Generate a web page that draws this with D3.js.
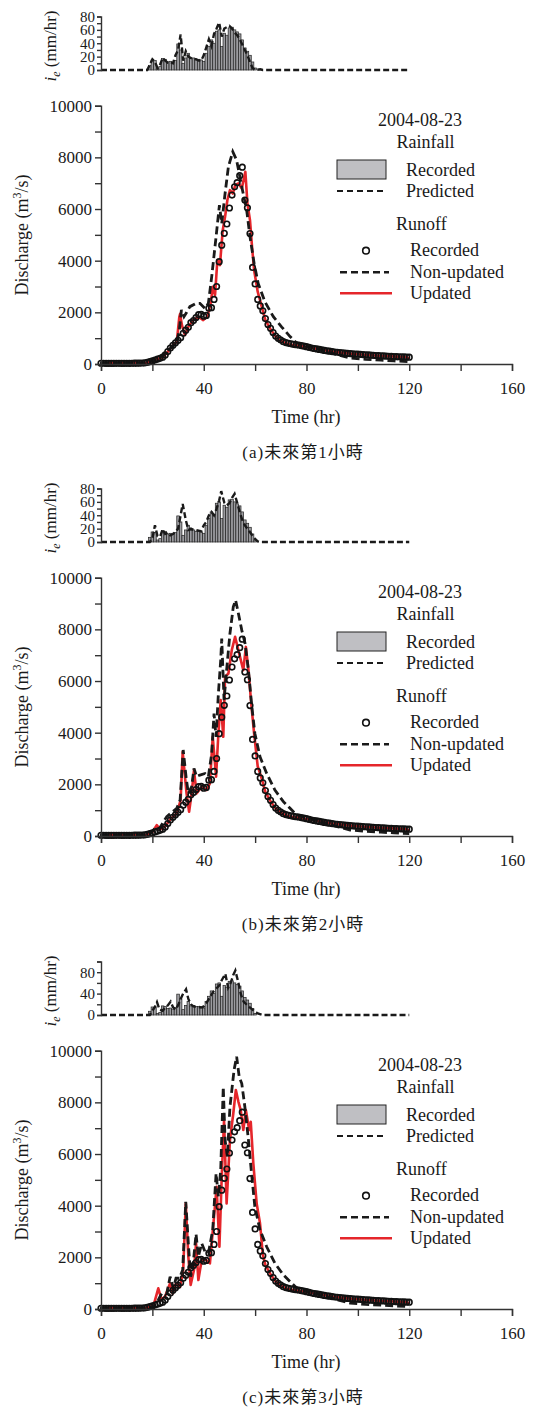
<!DOCTYPE html>
<html lang="zh-Hant">
<head>
<meta charset="UTF-8">
<title>Discharge forecast 2004-08-23</title>
<script src="https://d3js.org/d3.v7.min.js"></script>
<style>
    body { margin: 0; background: #fff; }
    svg text { font-family: "Liberation Serif", "Times New Roman", "Noto Sans CJK TC", serif; fill: #1a1a1a; }
    .axis path, .axis line { stroke: #333; stroke-width: 1.4; }
</style>
</head>
<body>
<svg id="chart" width="534" height="1408"></svg>
<script>
// ---- data ----
const rainStart = 19;   // first hour with recorded rain
const rainRecorded = [7, 15, 14, 3, 5, 17, 16, 12, 13, 11, 14, 39, 30, 10, 18, 25, 17, 18, 16, 16,
    15, 13, 25, 35, 45, 40, 58, 60, 35, 55, 52, 63, 64, 60, 57, 54, 45, 33, 28, 22, 12, 3];

// recorded discharge, hourly from 0 to 120 hr
const runoffRecorded = [30, 30, 28, 28, 27, 27, 26, 26, 25, 25, 26, 28, 30, 32, 33, 35, 38, 42, 60, 95,
    120, 155, 190, 220, 265, 350, 480, 620, 725, 820,
    915, 1020, 1190, 1310, 1420, 1600, 1680, 1800, 1910, 1920,
    1850, 1880, 2160, 2180, 2500, 3000, 3960, 4600, 5060, 5420,
    6040, 6540, 6860, 7020, 7290, 7620, 6350, 6050, 5050, 3740,
    3100, 2500, 2250, 2060, 1760, 1530, 1380, 1220, 1080, 995,
    930, 865, 830, 800, 780, 760, 745, 735, 710, 690,
    670, 645, 620, 600, 585, 565, 545, 525, 510, 495,
    478, 465, 455, 443, 432, 420, 410, 400, 392, 386,
    380, 372, 365, 358, 350, 343, 336, 330, 324, 318,
    312, 306, 300, 295, 290, 285, 280, 276, 272, 268,
    265];

// predicted rainfall [hr, mm/hr]
const rainPredA = [[0, 0], [18, 0], [19, 8], [20, 16], [21, 12], [22, 3], [23, 8], [24, 18], [25, 14], [26, 11],
    [27, 12], [28, 10], [29, 22], [30, 30], [31, 53], [32, 14], [33, 28], [34, 20], [35, 18], [36, 16], [37, 16],
    [38, 14], [39, 14], [40, 22], [41, 34], [42, 46], [43, 36], [44, 54], [45, 62], [46, 71], [47, 50], [48, 62],
    [49, 64], [50, 66], [51, 62], [52, 56], [53, 52], [54, 46], [55, 38], [56, 30], [57, 22], [58, 12], [59, 3],
    [60, 0], [62, 1], [63, 0], [120, 0]];
const rainPredB = [[0, 0], [19, 0], [20, 5], [21, 25], [22, 9], [23, 8], [24, 19], [25, 12], [26, 14], [27, 10],
    [28, 12], [29, 15], [30, 20], [31, 40], [31.8, 57], [33, 33], [34, 18], [35, 20], [36, 18], [37, 18], [38, 17],
    [39, 16], [40, 25], [41, 30], [42, 40], [43, 45], [44, 40], [45, 50], [46, 62], [46.8, 76], [48, 59], [49, 55],
    [50, 58], [51, 66], [52, 72], [53, 59], [54, 45], [55, 33], [56, 25], [57.6, 17], [59.6, 6], [61, 1], [62, 0],
    [120, 0]];
const rainPredC = [[0, 0], [19, 0], [20, 8], [21, 15], [21.8, 24], [22.8, 10], [24, 8], [25, 14], [26, 18],
    [27.1, 25], [28, 15], [29, 10], [30, 18], [31, 30], [32, 40], [33.1, 48], [34, 30], [35, 20], [36, 16], [37, 15],
    [38, 15], [39, 14], [40, 16], [41, 22], [42, 30], [43, 38], [44, 45], [45, 50], [46, 55], [47, 65], [48.4, 77],
    [49.5, 51], [50.5, 60], [51.5, 75], [52.3, 83], [53.3, 64], [54.5, 38], [55.5, 25], [57, 18], [58.5, 12],
    [60, 6], [61, 3], [63, 0], [120, 0]];

// shared falling limbs [hr, m3/s]
const tailNonUpdated = [[76, 830], [80, 680], [86, 540], [92, 360], [97, 230], [103, 180], [109, 150], [114, 120], [120, 90]];
const tailUpdated = [[64, 1700], [66, 1350], [68, 1060], [70, 900], [72, 800], [74, 740], [76, 720], [80, 660],
    [85, 570], [90, 480], [95, 420], [100, 375], [105, 340], [110, 310], [115, 285], [119, 265], [120, 200]];

const nonUpdatedA = [[0, 30], [18, 50], [20.4, 130], [23, 230], [25.6, 480], [28, 700], [29.5, 860], [30.5, 1320],
    [31.3, 2090], [32.3, 1830], [33.3, 1990], [34.6, 2220], [37, 2350], [38.5, 2350], [40.5, 2150], [41.8, 2350],
    [43.1, 3380], [44.8, 4930], [46.1, 6150], [47, 5440], [48.3, 6600], [49.6, 7640], [51.3, 8220], [52.8, 7890],
    [54.8, 6860], [56.7, 5960], [58, 4930], [59.6, 3900], [61.2, 3120], [63.8, 2410], [67.1, 1830], [70.3, 1440],
    [73.6, 1060]];
const updatedA = [[0, 30], [18, 50], [20, 120], [22, 190], [24, 260], [26, 470], [28, 720], [29.5, 860],
    [30.5, 1830], [30.8, 1940], [31.5, 1500], [32.7, 1120], [34, 1440], [35.9, 1700], [37.9, 1830], [39.8, 1700],
    [41.4, 1830], [42.7, 2350], [43.5, 2990], [44.4, 2670], [45.3, 4020], [46.3, 3830], [47.4, 5190], [48.3, 5700],
    [49.2, 6350], [50.2, 6730], [51.3, 6600], [52.3, 6930], [53.5, 6990], [54.8, 6800], [56.2, 7440], [57, 6220],
    [58, 5570], [58.8, 4540], [59.6, 3640], [61, 2800], [62.5, 2250]];

const nonUpdatedB = [[0, 30], [18, 50], [19.5, 120], [21, 300], [22.5, 250], [25.6, 750], [29.5, 1070],
    [30.8, 1390], [32, 3330], [33.1, 2300], [34, 1650], [35.3, 1910], [36.2, 2620], [37.2, 2300], [38.5, 2360],
    [40.5, 2420], [41.8, 2300], [43.1, 3200], [44, 4740], [44.8, 3840], [45.7, 5520], [46.6, 6800], [47, 7640],
    [47.9, 5260], [48.9, 6420], [50.2, 7840], [51.5, 8870], [52.4, 9130], [53.5, 8610], [54.8, 7970], [56.1, 7450],
    [57.4, 6420], [58.6, 5130], [59.9, 3970], [61.9, 3070], [64.5, 2420], [67.7, 1780], [71, 1330], [73.6, 1070]];
const updatedB = [[0, 30], [18, 50], [20, 150], [21.7, 420], [23, 250], [25, 380], [27, 650], [29.5, 880],
    [31, 1390], [31.8, 3260], [33.3, 1650], [34.3, 940], [35.3, 1650], [36.2, 2550], [37.2, 1650], [39.2, 1910],
    [41.1, 1780], [42.4, 2040], [43.5, 3840], [44.8, 2300], [45.7, 3970], [46.6, 5260], [47.6, 3840], [48.3, 6160],
    [49.6, 6290], [50.9, 7190], [52.2, 7710], [53.8, 7060], [55.4, 6420], [56.4, 7320], [57.4, 6420], [58.6, 5000],
    [59.6, 3970], [61, 2700], [62.5, 2250]];

const nonUpdatedC = [[0, 30], [18, 50], [20.4, 90], [22.3, 350], [23.6, 600], [25.6, 600], [26.9, 1250],
    [28.2, 800], [29.2, 1190], [30.5, 1190], [31.8, 1510], [33, 4150], [34, 2540], [34.9, 1250], [35.9, 1770],
    [37, 2900], [37.9, 2030], [39.2, 2540], [40.5, 2220], [41.8, 2150], [43.5, 3060], [44.8, 5250], [45.7, 4350],
    [46.6, 5380], [47.6, 8600], [48.3, 6540], [49.2, 5900], [50.2, 7830], [51.8, 9250], [52.8, 9770], [53.8, 8990],
    [54.8, 8730], [56, 7830], [57.4, 6540], [58.6, 5250], [59.9, 3960], [61.9, 3060], [64.5, 2410], [67.7, 1770],
    [71, 1320], [73.6, 1060]];
const updatedC = [[0, 30], [18, 50], [20.5, 150], [22.3, 800], [23.6, 350], [25, 500], [26.9, 1000], [27.9, 600],
    [29.2, 1000], [30.8, 860], [32, 1510], [33, 4090], [34, 2030], [34.9, 930], [36.2, 1510], [37, 2540],
    [37.9, 1120], [39.2, 1900], [40.9, 1900], [42.4, 1770], [44, 3570], [45, 4730], [46.1, 2410], [47, 5120],
    [47.9, 7310], [48.9, 4090], [50.2, 6540], [51.5, 7570], [52.5, 8480], [53.5, 8020], [54.4, 7700], [55.4, 6930],
    [56.4, 7700], [57.7, 6930], [58.3, 7250], [59.3, 5640], [60.6, 4090], [61.9, 3320], [63, 2100]];

const xTicks = [0, 20, 40, 60, 80, 100, 120, 140, 160];
const qTicks = [0, 1000, 2000, 3000, 4000, 5000, 6000, 7000, 8000, 9000, 10000];
const eventDate = '2004-08-23';
const captions = ['(a)未來第1小時', '(b)未來第2小時', '(c)未來第3小時'];

// ---- drawing ----
const svg = d3.select('#chart');
const RED = '#e5262b';
const x = d3.scaleLinear().domain([0, 160]).range([101, 512]);
const yQ = d3.scaleLinear().domain([0, 10000]).range([364, 105.7]);
const hourW = x(1) - x(0);

function drawPanel(dy, caption, rainMax, rainStep, rainLabelStep, rainPred, nonUpd, upd) {
    const g = svg.append('g').attr('transform', 'translate(0,' + dy + ')');

    // rainfall hyetograph
    const yR = d3.scaleLinear().domain([0, rainMax]).range([70, 16.5]);
    g.selectAll('.bar').data(rainRecorded).join('rect')
        .attr('x', (d, i) => x(rainStart + i) - hourW / 2)
        .attr('width', hourW)
        .attr('y', d => yR(d))
        .attr('height', d => yR(0) - yR(d))
        .attr('fill', '#9c9ca0').attr('stroke', '#222').attr('stroke-width', 0.7);

    g.append('path').datum(rainPred)
        .attr('d', d3.line().x(d => x(d[0])).y(d => yR(d[1])))
        .attr('fill', 'none').attr('stroke', '#1a1a1a').attr('stroke-width', 2.4)
        .attr('stroke-dasharray', '6,3');

    const rAxis = g.append('g').attr('class', 'axis').attr('transform', 'translate(' + x(0) + ',0)')
        .call(d3.axisLeft(yR).tickValues(d3.range(0, rainMax + 1, rainStep)).tickSize(4).tickPadding(2)
            .tickFormat(d => d % rainLabelStep === 0 ? d : ''));
    rAxis.selectAll('text').style('font-size', '15px');

    const rl = g.append('text').attr('transform', 'translate(56,46) rotate(-90)')
        .attr('text-anchor', 'middle').style('font-size', '17px');
    rl.append('tspan').text('i').style('font-style', 'italic');
    rl.append('tspan').text('e').style('font-style', 'italic').style('font-size', '12px').attr('dy', 4);
    rl.append('tspan').text(' (mm/hr)').attr('dy', -4);

    // discharge
    const line = d3.line().x(d => x(d[0])).y(d => yQ(d[1]));
    g.append('path').datum(upd.concat(tailUpdated))
        .attr('d', line).attr('fill', 'none').attr('stroke', RED).attr('stroke-width', 2.6)
        .attr('stroke-linejoin', 'round');
    g.append('path').datum(nonUpd.concat(tailNonUpdated))
        .attr('d', line).attr('fill', 'none').attr('stroke', '#1a1a1a').attr('stroke-width', 2.8)
        .attr('stroke-dasharray', '8,4');
    g.selectAll('.obs').data(runoffRecorded).join('circle')
        .attr('cx', (d, i) => x(i)).attr('cy', d => yQ(d)).attr('r', 2.8)
        .attr('fill', 'none').attr('stroke', '#111').attr('stroke-width', 1.6);

    const qAxis = g.append('g').attr('class', 'axis').attr('transform', 'translate(' + x(0) + ',0)')
        .call(d3.axisLeft(yQ).tickValues(qTicks).tickSize(6).tickPadding(3)
            .tickFormat(d => d % 2000 === 0 ? d : ''));
    qAxis.selectAll('text').style('font-size', '17px');

    const tAxis = g.append('g').attr('class', 'axis').attr('transform', 'translate(0,' + yQ(0) + ')')
        .call(d3.axisBottom(x).tickValues(xTicks).tickSize(7).tickPadding(11)
            .tickFormat(d => d % 40 === 0 ? d : ''));
    tAxis.selectAll('text').style('font-size', '17px');

    g.append('text').attr('x', 306).attr('y', 423).attr('text-anchor', 'middle')
        .style('font-size', '18px').text('Time (hr)');
    const ql = g.append('text').attr('transform', 'translate(28,235) rotate(-90)')
        .attr('text-anchor', 'middle').style('font-size', '18px');
    ql.append('tspan').text('Discharge (m');
    ql.append('tspan').text('3').style('font-size', '12px').attr('dy', -7);
    ql.append('tspan').text('/s)').attr('dy', 7);

    g.append('text').attr('x', 303).attr('y', 458).attr('text-anchor', 'middle')
        .style('font-size', '17px').style('letter-spacing', '1px').text(caption);

    // legend
    const lg = g.append('g');
    lg.append('text').attr('x', 420).attr('y', 126).attr('text-anchor', 'middle').style('font-size', '18px').text(eventDate);
    lg.append('text').attr('x', 425.5).attr('y', 148).attr('text-anchor', 'middle').style('font-size', '18px').text('Rainfall');
    lg.append('rect').attr('x', 337).attr('y', 160).attr('width', 49).attr('height', 19)
        .attr('fill', '#bfbfc3').attr('stroke', '#222').attr('stroke-width', 1);
    lg.append('text').attr('x', 406).attr('y', 176).style('font-size', '18px').text('Recorded');
    lg.append('line').attr('x1', 337).attr('x2', 386).attr('y1', 191).attr('y2', 191)
        .attr('stroke', '#1a1a1a').attr('stroke-width', 1.8).attr('stroke-dasharray', '6,4');
    lg.append('text').attr('x', 406).attr('y', 197).style('font-size', '18px').text('Predicted');
    lg.append('text').attr('x', 396).attr('y', 230).style('font-size', '18px').text('Runoff');
    lg.append('circle').attr('cx', 366).attr('cy', 250.7).attr('r', 3.3)
        .attr('fill', 'none').attr('stroke', '#111').attr('stroke-width', 1.6);
    lg.append('text').attr('x', 410).attr('y', 256).style('font-size', '18px').text('Recorded');
    lg.append('line').attr('x1', 340).attr('x2', 389).attr('y1', 272.3).attr('y2', 272.3)
        .attr('stroke', '#1a1a1a').attr('stroke-width', 2.6).attr('stroke-dasharray', '7,4');
    lg.append('text').attr('x', 410).attr('y', 278).style('font-size', '18px').text('Non-updated');
    lg.append('line').attr('x1', 340).attr('x2', 392).attr('y1', 293.3).attr('y2', 293.3)
        .attr('stroke', RED).attr('stroke-width', 2.6);
    lg.append('text').attr('x', 410).attr('y', 299).style('font-size', '18px').text('Updated');
}

drawPanel(0, captions[0], 80, 10, 20, rainPredA, nonUpdatedA, updatedA);
drawPanel(472, captions[1], 80, 10, 20, rainPredB, nonUpdatedB, updatedB);
drawPanel(945, captions[2], 100, 20, 40, rainPredC, nonUpdatedC, updatedC);
</script>
</body>
</html>
